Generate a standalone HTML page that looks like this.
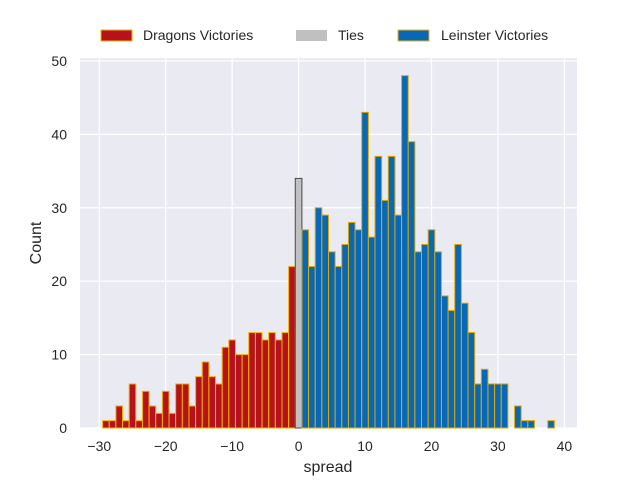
<!DOCTYPE html>
<html><head><meta charset="utf-8"><style>
body{margin:0;background:#fff;font-family:"Liberation Sans",sans-serif;}
svg text{font-family:"Liberation Sans",sans-serif;fill:#262626;}
</style></head><body>
<svg id="chart" width="640" height="480" xmlns="http://www.w3.org/2000/svg">
<rect x="80" y="58" width="497" height="370" fill="#eaeaf2"/>
<g id="grid"></g>
<g id="bars"></g>
<g id="ticks"></g>
<text x="328" y="472" font-size="16" text-anchor="middle">spread</text>
<text transform="translate(41,243) rotate(-90)" font-size="16" text-anchor="middle">Count</text>
<g>
<rect x="101" y="30" width="31" height="11" fill="#b5121b" stroke="#f0b400" stroke-width="1"/>
<text x="143" y="40" font-size="14">Dragons Victories</text>
<rect x="296" y="30" width="31" height="11" fill="#c0c0c0"/>
<text x="338" y="40" font-size="14">Ties</text>
<rect x="398" y="30" width="31" height="11" fill="#0868b8" stroke="#f0b400" stroke-width="1"/>
<text x="441" y="40" font-size="14">Leinster Victories</text>
</g>
</svg>
<script>
const dragonSpreads=[-29,-28,-27,-26,-25,-24,-23,-22,-21,-20,-19,-18,-17,-16,-15,-14,-13,-12,-11,-10,-9,-8,-7,-6,-5,-4,-3,-2,-1];
const dragonCounts=[1,1,3,1,6,1,5,3,2,5,2,6,6,3,7,9,7,6,11,12,10,10,13,13,12,13,12,13,22];
const tieSpreads=[0];
const tieCounts=[34];
const leinsterSpreads=[1,2,3,4,5,6,7,8,9,10,11,12,13,14,15,16,17,18,19,20,21,22,23,24,25,26,27,28,29,30,31,32,33,34,35,36,37,38];
const leinsterCounts=[27,22,30,29,24,22,25,28,27,43,26,37,31,37,29,48,39,24,25,27,24,18,16,25,17,13,6,8,6,6,6,0,3,1,1,0,0,1];
const xTicks=[-30,-20,-10,0,10,20,30,40];
const yTicks=[0,10,20,30,40,50];
const NS="http://www.w3.org/2000/svg";
const X0=80,X1=577,Y0=428,Y1=58,xmin=-32.9,xmax=41.9,ymax=50.4;
const xs=v=>X0+(v-xmin)/(xmax-xmin)*(X1-X0);
const ys=v=>Y0-v/ymax*(Y0-Y1);
function mk(tag,attrs,parent){const e=document.createElementNS(NS,tag);for(const k in attrs)e.setAttribute(k,attrs[k]);parent.appendChild(e);return e;}
const grid=document.getElementById('grid'),bars=document.getElementById('bars'),ticks=document.getElementById('ticks');
xTicks.forEach(t=>{
 const l=mk('line',{x1:xs(t),x2:xs(t),y1:Y1,y2:Y0,stroke:'#fff','stroke-width':1.2},grid);
 
 
 const tx=mk('text',{x:xs(t),y:451,'font-size':14,'text-anchor':'middle'},ticks);
 tx.textContent=(t<0?'\u2212'+(-t):t);
 
 
});
yTicks.forEach(t=>{
 const l=mk('line',{x1:X0,x2:X1,y1:ys(t),y2:ys(t),stroke:'#fff','stroke-width':1.2},grid);
 
 
 const tx=mk('text',{x:67,y:ys(t)+5,'font-size':14,'text-anchor':'end'},ticks);
 tx.textContent=t;
 
 
});
function drawSeries(sp,ct,fill,stroke,name){
 sp.forEach((s,i)=>{
  if(!ct[i])return;
  const r=mk('rect',{x:xs(s-0.5),y:ys(ct[i]),width:xs(s+0.5)-xs(s-0.5),height:Y0-ys(ct[i]),fill:fill,stroke:stroke,'stroke-width':1},bars);
  
  
 });
}
drawSeries(dragonSpreads,dragonCounts,'#b5121b','#f0b400','bar-dragons');
drawSeries(tieSpreads,tieCounts,'#c0c0c0','#4a4a4a','bar-ties');
drawSeries(leinsterSpreads,leinsterCounts,'#0868b8','#e0a800','bar-leinster');
</script>
</body></html>
